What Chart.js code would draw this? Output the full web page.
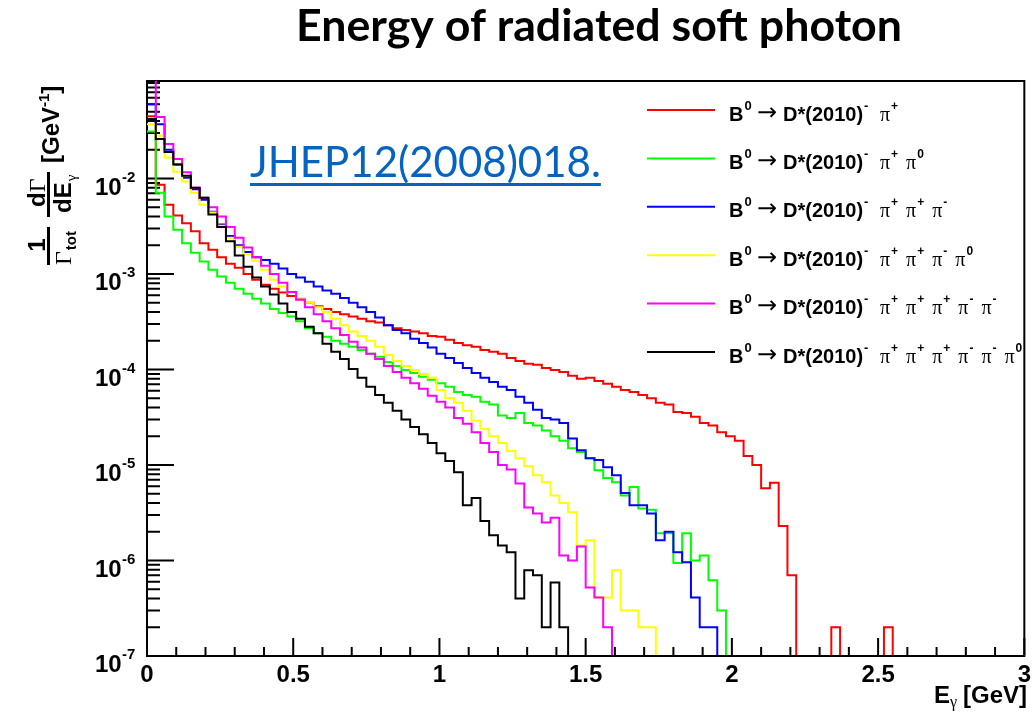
<!DOCTYPE html>
<html>
<head>
<meta charset="utf-8">
<title>Energy of radiated soft photon</title>
<script src="https://cdn.jsdelivr.net/npm/chart.js@4.4.1/dist/chart.umd.min.js"></script>
<style>
  html, body { margin: 0; padding: 0; background: #fff; }
  #plot { display: block; }
</style>
</head>
<body>
<canvas id="plot" width="1036" height="716"></canvas>
<script>
// Histograms: 100 bins of 0.03 GeV between 0 and 3 GeV
const BIN_WIDTH = 0.03;
const X_MAX = 3;
const Y_MIN = 1e-7;
const Y_MAX = 0.105;

const xTickLabels = [0, 0.5, 1, 1.5, 2, 2.5, 3];
const yDecades = [-7, -6, -5, -4, -3, -2];

const seriesNames = [
    'B⁰ → D*(2010)⁻ π⁺',
    'B⁰ → D*(2010)⁻ π⁺ π⁰',
    'B⁰ → D*(2010)⁻ π⁺ π⁺ π⁻',
    'B⁰ → D*(2010)⁻ π⁺ π⁺ π⁻ π⁰',
    'B⁰ → D*(2010)⁻ π⁺ π⁺ π⁺ π⁻ π⁻',
    'B⁰ → D*(2010)⁻ π⁺ π⁺ π⁺ π⁻ π⁻ π⁰'
];
const legendPions = [
    ['+'],
    ['+', '0'],
    ['+', '+', '-'],
    ['+', '+', '-', '0'],
    ['+', '+', '+', '-', '-'],
    ['+', '+', '+', '-', '-', '0']
];
const seriesColors = ['#ff0000', '#00ff00', '#0000ff', '#ffff00', '#ff00ff', '#000000'];

// dN/dE per bin (bins after the last value are empty)
const redValues = [
    4.5e-2, 8.6e-3, 5.3e-3, 4.1e-3, 3.4e-3, 2.8e-3, 2.1e-3, 1.8e-3, 1.5e-3, 1.28e-3,
    1.16e-3, 1.0e-3, 8.7e-4, 7.7e-4, 7.0e-4, 6.4e-4, 5.9e-4, 5.4e-4, 5.0e-4, 4.6e-4,
    4.3e-4, 4.0e-4, 3.8e-4, 3.6e-4, 3.4e-4, 3.2e-4, 3.1e-4, 2.9e-4, 2.7e-4, 2.6e-4,
    2.5e-4, 2.4e-4, 2.25e-4, 2.2e-4, 2.05e-4, 1.9e-4, 1.8e-4, 1.73e-4, 1.6e-4, 1.53e-4,
    1.46e-4, 1.32e-4, 1.23e-4, 1.15e-4, 1.12e-4, 1.04e-4, 9.9e-5, 9.4e-5, 8.6e-5, 8.0e-5,
    8.2e-5, 7.6e-5, 7.1e-5, 6.6e-5, 6.1e-5, 5.8e-5, 5.4e-5, 5.0e-5, 4.5e-5, 4.3e-5,
    3.6e-5, 3.5e-5, 3.2e-5, 2.75e-5, 2.6e-5, 2.2e-5, 2.0e-5, 1.8e-5, 1.24e-5, 1.0e-5,
    5.7e-6, 6.5e-6, 2.3e-6, 7.0e-7, 0, 0, 0, 0, 2.0e-7, 0,
    0, 0, 0, 0, 2.0e-7
];
const greenValues = [
    3.1e-2, 7.1e-3, 4.0e-3, 2.9e-3, 2.1e-3, 1.67e-3, 1.35e-3, 1.11e-3, 9.4e-4, 8.1e-4,
    7.0e-4, 6.2e-4, 5.5e-4, 4.9e-4, 4.3e-4, 3.9e-4, 3.6e-4, 3.2e-4, 2.7e-4, 2.4e-4,
    2.2e-4, 2.0e-4, 1.86e-4, 1.73e-4, 1.6e-4, 1.46e-4, 1.36e-4, 1.2e-4, 1.09e-4, 9.9e-5,
    9.2e-5, 8.4e-5, 7.8e-5, 7.2e-5, 6.6e-5, 5.8e-5, 5.4e-5, 5.2e-5, 4.6e-5, 4.3e-5,
    3.3e-5, 3.1e-5, 3.5e-5, 2.75e-5, 2.6e-5, 2.3e-5, 2.0e-5, 1.8e-5, 1.5e-5, 1.37e-5,
    1.18e-5, 8.8e-6, 7.3e-6, 6.6e-6, 4.8e-6, 5.9e-6, 3.5e-6, 3.4e-6, 1.93e-6, 1.93e-6,
    9.4e-7, 1.93e-6, 1.0e-6, 1.13e-6, 6.2e-7, 3.0e-7
];
const blueValues = [
    6.0e-2, 3.7e-2, 2.0e-2, 1.4e-2, 1.02e-2, 7.7e-3, 6.0e-3, 4.5e-3, 3.3e-3, 2.5e-3,
    2.0e-3, 1.7e-3, 1.5e-3, 1.4e-3, 1.28e-3, 1.14e-3, 1.0e-3, 9.2e-4, 8.3e-4, 7.4e-4,
    6.7e-4, 6.2e-4, 5.6e-4, 5.0e-4, 4.5e-4, 4.0e-4, 3.5e-4, 2.9e-4, 2.6e-4, 2.4e-4,
    2.1e-4, 1.9e-4, 1.7e-4, 1.46e-4, 1.32e-4, 1.17e-4, 1.04e-4, 9.2e-5, 8.2e-5, 7.4e-5,
    6.6e-5, 6.1e-5, 5.2e-5, 4.5e-5, 3.8e-5, 3.1e-5, 3.0e-5, 2.75e-5, 1.9e-5, 1.43e-5,
    1.18e-5, 1.13e-5, 9.5e-6, 7.8e-6, 5.1e-6, 3.8e-6, 3.8e-6, 3.1e-6, 1.63e-6, 2.0e-6,
    1.22e-6, 9.6e-7, 4.1e-7, 2.0e-7, 2.0e-7
];
const yellowValues = [
    3.7e-2, 2.8e-2, 1.66e-2, 1.18e-2, 9.3e-3, 7.1e-3, 5.3e-3, 4.4e-3, 3.2e-3, 2.4e-3,
    1.93e-3, 1.6e-3, 1.38e-3, 1.11e-3, 8.7e-4, 7.4e-4, 6.4e-4, 5.6e-4, 5.0e-4, 4.5e-4,
    4.0e-4, 3.4e-4, 2.9e-4, 2.5e-4, 2.25e-4, 2.0e-4, 1.73e-4, 1.42e-4, 1.23e-4, 1.09e-4,
    9.9e-5, 9.0e-5, 8.2e-5, 6.1e-5, 5.0e-5, 4.5e-5, 3.7e-5, 2.9e-5, 2.4e-5, 2.0e-5,
    1.7e-5, 1.4e-5, 1.18e-5, 9.7e-6, 7.8e-6, 6.6e-6, 4.8e-6, 4.0e-6, 3.2e-6, 1.44e-6,
    1.63e-6, 4.1e-7, 4.1e-7, 7.9e-7, 3.0e-7, 3.0e-7, 2.0e-7, 2.0e-7
];
const magentaValues = [
    1.3e-1, 4.4e-2, 2.3e-2, 1.6e-2, 1.16e-2, 8.0e-3, 6.3e-3, 5.0e-3, 4.0e-3, 3.1e-3,
    2.4e-3, 1.9e-3, 1.5e-3, 1.22e-3, 1.0e-3, 8.1e-4, 6.5e-4, 5.4e-4, 4.5e-4, 3.8e-4,
    3.2e-4, 2.7e-4, 2.3e-4, 1.95e-4, 1.7e-4, 1.46e-4, 1.29e-4, 1.09e-4, 9.4e-5, 8.2e-5,
    7.2e-5, 6.3e-5, 5.3e-5, 4.6e-5, 4.0e-5, 3.1e-5, 2.7e-5, 2.2e-5, 1.7e-5, 1.37e-5,
    1.0e-5, 9.0e-6, 6.4e-6, 3.6e-6, 3.1e-6, 2.5e-6, 2.8e-6, 1.13e-6, 1.0e-6, 1.4e-6,
    5.2e-7, 4.1e-7, 2.0e-7
];
const blackValues = [
    4.2e-2, 2.6e-2, 1.9e-2, 1.4e-2, 1.07e-2, 8.0e-3, 6.3e-3, 4.2e-3, 3.1e-3, 2.2e-3,
    1.56e-3, 1.19e-3, 9.2e-4, 7.4e-4, 6.1e-4, 4.9e-4, 4.0e-4, 3.4e-4, 2.8e-4, 2.4e-4,
    1.86e-4, 1.53e-4, 1.29e-4, 1.01e-4, 8.2e-5, 6.6e-5, 5.4e-5, 4.5e-5, 3.7e-5, 3.0e-5,
    2.5e-5, 2.1e-5, 1.7e-5, 1.33e-5, 1.1e-5, 8.4e-6, 3.8e-6, 4.5e-6, 2.6e-6, 1.84e-6,
    1.44e-6, 1.22e-6, 4.0e-7, 7.9e-7, 7.0e-7, 2.0e-7, 5.9e-7, 2.0e-7
];
const seriesValues = [redValues, greenValues, blueValues, yellowValues, magentaValues, blackValues];

const BOLD = '"Liberation Sans", Arial, sans-serif';
const SYMBOL = '"Liberation Serif", "Times New Roman", serif';

// Turn bin contents into step points; empty bins sit on the bottom of the axis
function histPoints(values) {
    const nBins = Math.round(X_MAX / BIN_WIDTH);
    const pts = [];
    for (let i = 0; i < nBins; i++) {
        const v = i < values.length ? values[i] : 0;
        pts.push({ x: i * BIN_WIDTH, y: v > 0 ? v : Y_MIN });
    }
    pts.push({ x: X_MAX, y: Y_MIN });
    return pts;
}

// frame, ticks inside the frame and all the text around the plot
const rootPlot = {
    id: 'rootPlot',
    beforeDatasetsDraw(chart) {
        const { ctx, chartArea: a } = chart;
        const xs = chart.scales.x, ys = chart.scales.y;
        ctx.save();
        ctx.strokeStyle = '#000';
        ctx.lineWidth = 2;
        ctx.strokeRect(a.left, a.top, a.right - a.left, a.bottom - a.top);
        ctx.beginPath();
        for (let k = 0; k <= 30; k++) {
            const px = xs.getPixelForValue(k / 10);
            const len = k % 5 === 0 ? 18 : 9;
            ctx.moveTo(px, a.bottom);
            ctx.lineTo(px, a.bottom - len);
        }
        for (let d = -7; d <= -1; d++) {
            for (let m = 1; m <= 9; m++) {
                const v = m * Math.pow(10, d);
                if (v < Y_MIN || v > Y_MAX) continue;
                const py = ys.getPixelForValue(v);
                const len = (m === 1 && d < -1) ? 27 : 13;
                ctx.moveTo(a.left, py);
                ctx.lineTo(a.left + len, py);
            }
        }
        ctx.stroke();
        ctx.restore();
    },
    afterDraw(chart) {
        const { ctx } = chart;
        const ys = chart.scales.y;
        ctx.save();
        ctx.fillStyle = '#000';
        ctx.textBaseline = 'alphabetic';
        ctx.textAlign = 'left';

        // y tick labels 10^n
        yDecades.forEach(d => {
            const py = ys.getPixelForValue(Math.pow(10, d));
            ctx.font = 'bold 24px ' + BOLD;
            ctx.fillText('10', 95, py + 16);
            ctx.font = 'bold 15px ' + BOLD;
            ctx.fillText('-' + (-d), 122, py + 3);
        });

        // x axis title, right aligned
        ctx.font = 'bold 24px ' + BOLD;
        const unitW = ctx.measureText('[GeV]').width;
        let xr = 1027 - unitW;
        ctx.fillText('[GeV]', xr, 703);
        ctx.font = '16px ' + SYMBOL;
        const gW = ctx.measureText('γ').width;
        xr -= gW + 6;
        ctx.fillText('γ', xr, 707);
        ctx.font = 'bold 24px ' + BOLD;
        const eW = ctx.measureText('E').width;
        ctx.fillText('E', xr - eW, 703);

        // y axis title, rotated
        ctx.save();
        ctx.rotate(-Math.PI / 2);
        ctx.font = 'bold 24px ' + BOLD;
        ctx.textAlign = 'center';
        ctx.fillText('1', -245, 45);
        ctx.fillRect(-265, 47, 38, 3);
        ctx.textAlign = 'left';
        ctx.font = '24px ' + SYMBOL;
        ctx.fillText('Γ', -265, 71);
        const gammaW = ctx.measureText('Γ').width;
        ctx.font = 'bold 15px ' + BOLD;
        ctx.fillText('tot', -265 + gammaW + 1, 76);
        // dΓ over dEγ
        ctx.font = 'bold 24px ' + BOLD;
        const dW = ctx.measureText('d').width;
        ctx.fillText('d', -207, 45);
        ctx.font = '24px ' + SYMBOL;
        ctx.fillText('Γ', -207 + dW, 45);
        ctx.fillRect(-217, 47, 45, 3);
        ctx.font = 'bold 24px ' + BOLD;
        const dEW = ctx.measureText('dE').width;
        ctx.fillText('dE', -213, 71);
        ctx.font = '15px ' + SYMBOL;
        ctx.fillText('γ', -213 + dEW + 1, 76);
        // [GeV^-1]
        ctx.font = 'bold 24px ' + BOLD;
        let xp = -163;
        ctx.fillText('[GeV', xp, 59);
        xp += ctx.measureText('[GeV').width;
        ctx.font = 'bold 15px ' + BOLD;
        ctx.fillText('-1', xp, 49);
        xp += ctx.measureText('-1').width;
        ctx.font = 'bold 24px ' + BOLD;
        ctx.fillText(']', xp, 59);
        ctx.restore();

        // legend
        seriesNames.forEach((name, i) => {
            const ly = 110 + i * 48.4;
            ctx.strokeStyle = seriesColors[i];
            ctx.lineWidth = 2;
            ctx.beginPath();
            ctx.moveTo(647, ly);
            ctx.lineTo(715, ly);
            ctx.stroke();
            const base = ly + 10.5;
            const sup = ly - 0.5;
            let x = 729;
            ctx.fillStyle = '#000';
            ctx.font = 'bold 20px ' + BOLD;
            ctx.fillText('B', x, base);
            x += ctx.measureText('B').width + 1;
            ctx.font = 'bold 13px ' + BOLD;
            ctx.fillText('0', x, sup);
            ctx.font = '24px "DejaVu Sans", sans-serif';
            ctx.fillText('→', 757, base - 1);
            x = 783;
            ctx.font = 'bold 20px ' + BOLD;
            ctx.fillText('D*(2010)', x, base);
            x += ctx.measureText('D*(2010)').width + 1;
            ctx.font = 'bold 13px ' + BOLD;
            ctx.fillText('-', x, sup);
            x = 880;
            legendPions[i].forEach(ch => {
                ctx.font = '20px ' + SYMBOL;
                ctx.fillText('π', x, base);
                x += ctx.measureText('π').width + 1;
                ctx.font = 'bold 12px ' + BOLD;
                ctx.fillText(ch, x, sup);
                x += ctx.measureText(ch).width + 8;
            });
        });

        // titles
        ctx.fillStyle = '#000';
        ctx.font = 'bold 44px Lato, ' + BOLD;
        const title = 'Energy of radiated soft photon';
        const tw = ctx.measureText(title).width;
        ctx.save();
        ctx.translate(296, 41);
        ctx.scale(606 / tw, 1);
        ctx.fillText(title, 0, 0);
        ctx.restore();
        ctx.fillStyle = '#0563c1';
        ctx.font = '42px Lato, ' + BOLD;
        const ref = 'JHEP12(2008)018.';
        ctx.fillText(ref, 250, 177);
        ctx.fillRect(250, 183, ctx.measureText(ref).width, 3);
        ctx.restore();
    }
};

const datasets = seriesValues.map((vals, i) => ({
    label: seriesNames[i],
    data: histPoints(vals),
    borderColor: seriesColors[i],
    backgroundColor: seriesColors[i],
    borderWidth: 2,
    stepped: 'before',
    fill: false,
    pointRadius: 0,
    order: seriesValues.length - i
}));

const ctx = document.getElementById('plot').getContext('2d');
new Chart(ctx, {
    type: 'line',
    data: { datasets: datasets },
    options: {
        responsive: false,
        animation: false,
        devicePixelRatio: 1,
        layout: { padding: { left: 0, right: 8, top: 81, bottom: 0 } },
        plugins: {
            legend: { display: false },
            tooltip: { enabled: false }
        },
        scales: {
            x: {
                type: 'linear',
                min: 0,
                max: X_MAX,
                grid: { display: false, drawTicks: false },
                border: { display: false },
                afterBuildTicks: scale => {
                    scale.ticks = xTickLabels.map(v => ({ value: v }));
                },
                ticks: {
                    color: '#000',
                    padding: 5,
                    maxRotation: 0,
                    autoSkip: false,
                    font: { family: 'Liberation Sans', size: 24, weight: 'bold' },
                    callback: v => String(v)
                },
                afterFit: scale => { scale.height = 60; }
            },
            y: {
                type: 'logarithmic',
                min: Y_MIN,
                max: Y_MAX,
                grid: { display: false, drawTicks: false },
                border: { display: false },
                ticks: { display: false },
                afterFit: scale => { scale.width = 147; }
            }
        }
    },
    plugins: [rootPlot]
});
</script>
</body>
</html>
